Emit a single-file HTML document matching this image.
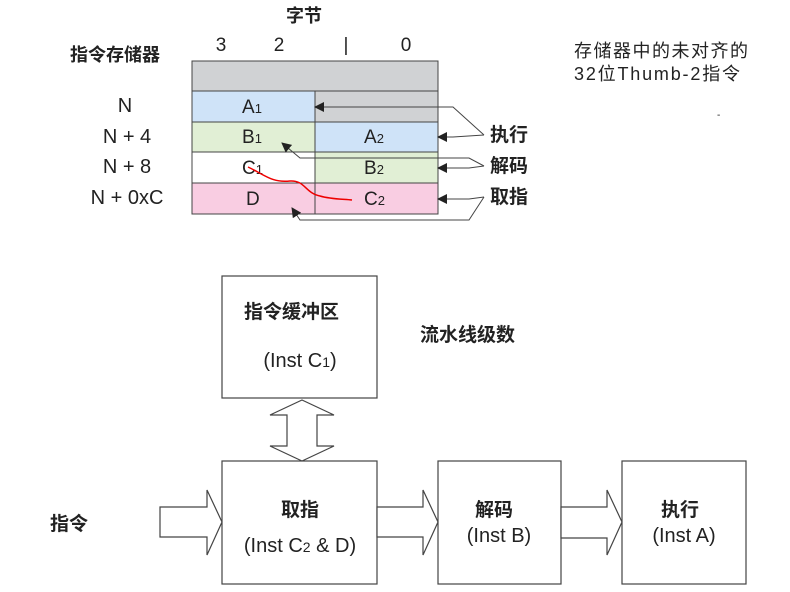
<!DOCTYPE html>
<html><head><meta charset="utf-8"><style>
body{margin:0;background:#fff}
svg{display:block}
text{font-family:"Liberation Sans","Noto Sans CJK SC",sans-serif;fill:#222}
.b{font-weight:bold}
</style></head><body>
<svg width="790" height="592" viewBox="0 0 790 592" xmlns="http://www.w3.org/2000/svg">
<defs><marker id="ah" markerWidth="10" markerHeight="10" refX="9" refY="5" orient="auto" markerUnits="userSpaceOnUse"><path d="M0,0 L10,5 L0,10 z" fill="#222"/></marker></defs>
<text x="304" y="22" font-size="18" class="b" text-anchor="middle">字节</text>
<text x="221" y="51" font-size="19" text-anchor="middle">3</text>
<text x="279" y="51" font-size="19" text-anchor="middle">2</text>
<text x="346" y="51" font-size="19" text-anchor="middle" fill="#336">|</text>
<text x="406" y="51" font-size="19" text-anchor="middle">0</text>
<text x="70" y="61" font-size="18" class="b">指令存储器</text>
<text x="125" y="112" font-size="20" text-anchor="middle">N</text>
<text x="127" y="143" font-size="20" text-anchor="middle">N + 4</text>
<text x="127" y="173" font-size="20" text-anchor="middle">N + 8</text>
<text x="127" y="204" font-size="20" text-anchor="middle">N + 0xC</text>
<text x="574" y="57" font-size="18" textLength="174">存储器中的未对齐的</text>
<text x="574" y="80" font-size="18" textLength="166">32位Thumb-2指令</text>
<rect x="192" y="61" width="246" height="30" fill="#d0d2d4" stroke="#444"/>
<rect x="192" y="91" width="123" height="31" fill="#cfe3f8" stroke="#444"/>
<rect x="315" y="91" width="123" height="31" fill="#d0d2d4" stroke="#444"/>
<rect x="192" y="122" width="123" height="30" fill="#e1efd5" stroke="#444"/>
<rect x="315" y="122" width="123" height="30" fill="#cfe3f8" stroke="#444"/>
<rect x="192" y="152" width="123" height="31" fill="#fff" stroke="#444"/>
<rect x="315" y="152" width="123" height="31" fill="#e1efd5" stroke="#444"/>
<rect x="192" y="183" width="123" height="31" fill="#f9cde2" stroke="#444"/>
<rect x="315" y="183" width="123" height="31" fill="#f9cde2" stroke="#444"/>
<text x="242" y="113" font-size="19" fill="#234">A<tspan font-size="13">1</tspan></text>
<text x="242" y="143" font-size="19" fill="#443">B<tspan font-size="13">1</tspan></text>
<text x="242" y="174" font-size="19" fill="#333">C<tspan font-size="13">1</tspan></text>
<text x="246" y="205" font-size="19" fill="#523">D</text>
<text x="364" y="143" font-size="19" fill="#234">A<tspan font-size="13">2</tspan></text>
<text x="364" y="174" font-size="19" fill="#443">B<tspan font-size="13">2</tspan></text>
<text x="364" y="205" font-size="19" fill="#523">C<tspan font-size="13">2</tspan></text>
<path d="M248,167 C265,175 272,183 290,181 C305,180 305,193 320,196 C330,199 340,199 352,200" fill="none" stroke="#e00" stroke-width="1.5"/>
<g fill="none" stroke="#444" stroke-width="1">
<polyline points="484,135 453,107 315,107" marker-end="url(#ah)"/>
<polyline points="484,135 453,137 438,137" marker-end="url(#ah)"/>
<polyline points="484,166 469,158 300,158 282,143" marker-end="url(#ah)"/>
<polyline points="484,166 469,168 438,168" marker-end="url(#ah)"/>
<polyline points="484,197 469,199 438,199" marker-end="url(#ah)"/>
<polyline points="484,197 469,220 300,220 292,208" marker-end="url(#ah)"/>
</g>
<text x="490" y="141" font-size="19" class="b">执行</text>
<text x="490" y="172" font-size="19" class="b">解码</text>
<text x="490" y="203" font-size="19" class="b">取指</text>
<text x="717" y="118" font-size="10" fill="#666">-</text>
<g fill="#fff" stroke="#444" stroke-width="1.2">
<rect x="222" y="276" width="155" height="122"/>
<rect x="222" y="461" width="155" height="123"/>
<rect x="438" y="461" width="123" height="123"/>
<rect x="622" y="461" width="124" height="123"/>
<polygon points="302,400 334,415 317,415 317,446 334,446 302,461 270,446 287,446 287,415 270,415"/>
<polygon points="160,507 207,507 207,490 222,522 207,555 207,537 160,537"/>
<polygon points="377,507 423,507 423,490 438,522 423,555 423,537 377,537"/>
<polygon points="561,507 607,507 607,490 622,522 607,555 607,538 561,538"/>
</g>
<text x="244" y="318" font-size="19" class="b">指令缓冲区</text>
<text x="300" y="367" font-size="20" text-anchor="middle" fill="#333">(Inst C<tspan font-size="14">1</tspan>)</text>
<text x="420" y="341" font-size="19" class="b">流水线级数</text>
<text x="50" y="530" font-size="19" class="b">指令</text>
<text x="300" y="516" font-size="19" class="b" text-anchor="middle">取指</text>
<text x="300" y="552" font-size="20" text-anchor="middle" fill="#333">(Inst C<tspan font-size="14">2</tspan> &amp; D)</text>
<text x="494" y="516" font-size="19" class="b" text-anchor="middle">解码</text>
<text x="499" y="542" font-size="20" text-anchor="middle" fill="#333">(Inst B)</text>
<text x="680" y="516" font-size="19" class="b" text-anchor="middle">执行</text>
<text x="684" y="542" font-size="20" text-anchor="middle" fill="#333">(Inst A)</text>
</svg>
</body></html>
